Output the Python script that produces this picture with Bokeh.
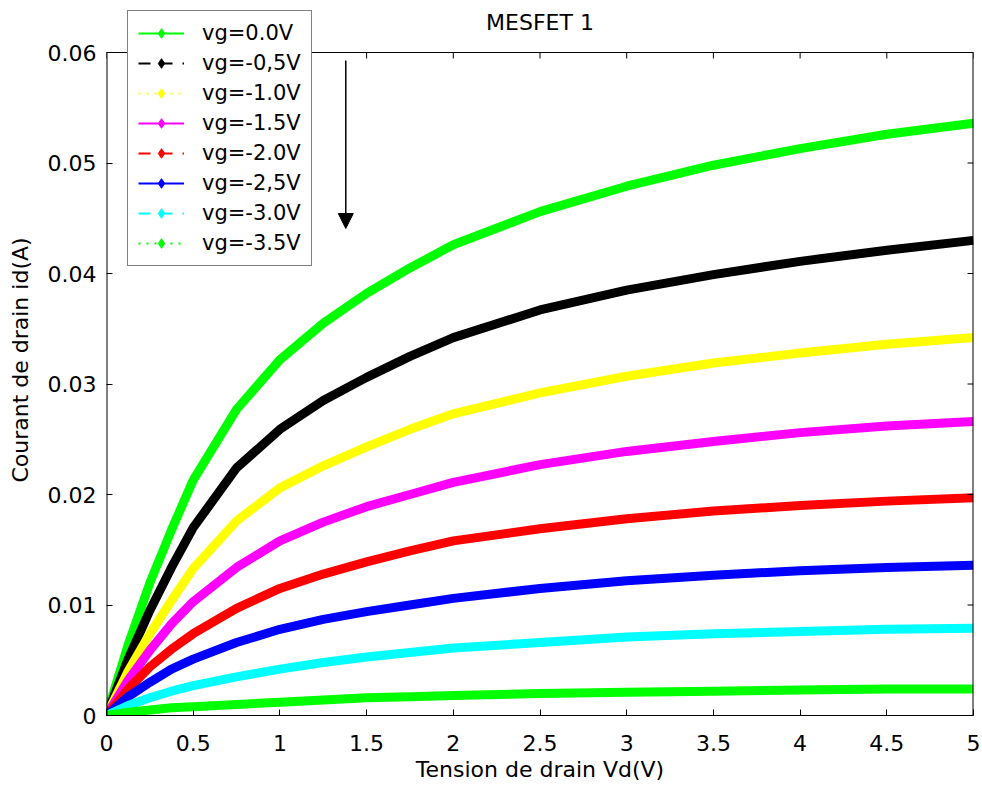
import math
from bokeh.plotting import figure
from bokeh.models import Range1d, FixedTicker, Legend, LegendItem, Arrow, NormalHead
from bokeh.core.properties import value
from bokeh.embed import file_html
from bokeh.resources import INLINE

# ---------------- data ----------------
vd = [0, 0.125, 0.25, 0.375, 0.5, 0.75, 1.0, 1.25, 1.5, 1.75, 2.0, 2.5, 3.0, 3.5, 4.0, 4.5, 5.0]

id_vg_0_0 = [0, 0.0064, 0.0120, 0.0168, 0.0213, 0.0277, 0.0322, 0.0355, 0.0382, 0.0405, 0.0426, 0.0456, 0.0479, 0.0498, 0.0513, 0.0526, 0.0536]
id_vg_m0_5 = [0, 0.0051, 0.0095, 0.0134, 0.0170, 0.0224, 0.0259, 0.0285, 0.0306, 0.0325, 0.0342, 0.0367, 0.0385, 0.0399, 0.0411, 0.0421, 0.0430]
id_vg_m1_0 = [0, 0.0040, 0.0074, 0.0104, 0.0133, 0.0176, 0.0206, 0.0226, 0.0243, 0.0259, 0.0273, 0.0292, 0.0307, 0.0319, 0.0328, 0.0336, 0.0342]
id_vg_m1_5 = [0, 0.0032, 0.0059, 0.0083, 0.0103, 0.0134, 0.0158, 0.0175, 0.0189, 0.0200, 0.0211, 0.0227, 0.0239, 0.0248, 0.0256, 0.0262, 0.0266]
id_vg_m2_0 = [0, 0.0024, 0.0044, 0.0060, 0.0074, 0.0097, 0.0115, 0.0128, 0.0139, 0.0149, 0.0158, 0.0169, 0.0178, 0.0185, 0.0190, 0.0194, 0.0197]
id_vg_m2_5 = [0, 0.0017, 0.0030, 0.0042, 0.0051, 0.0066, 0.0078, 0.0087, 0.0094, 0.0100, 0.0106, 0.0115, 0.0122, 0.0127, 0.0131, 0.0134, 0.0136]
id_vg_m3_0 = [0, 0.0009, 0.0016, 0.0022, 0.0027, 0.0035, 0.0042, 0.0048, 0.0053, 0.0057, 0.0061, 0.0066, 0.0071, 0.0074, 0.0076, 0.0078, 0.0079]
id_vg_m3_5 = [0, 0.0003, 0.0005, 0.0007, 0.0008, 0.0010, 0.0012, 0.0014, 0.0016, 0.0017, 0.0018, 0.0020, 0.0021, 0.0022, 0.0023, 0.0024, 0.0024]

series_values = [id_vg_0_0, id_vg_m0_5, id_vg_m1_0, id_vg_m1_5,
                 id_vg_m2_0, id_vg_m2_5, id_vg_m3_0, id_vg_m3_5]
series_labels = ["vg=0.0V", "vg=-0,5V", "vg=-1.0V", "vg=-1.5V",
                 "vg=-2.0V", "vg=-2,5V", "vg=-3.0V", "vg=-3.5V"]
series_colors = ["#00ff00", "#000000", "#ffff00", "#ff00ff",
                 "#ff0000", "#0000ff", "#00ffff", "#00ff00"]
legend_dashes = ["solid", "12 10", "2 6", "solid", "12 10", "solid", "12 10", "2 6"]

x_ticks = [0, 0.5, 1, 1.5, 2, 2.5, 3, 3.5, 4, 4.5, 5]
x_tick_labels = ["0", "0.5", "1", "1.5", "2", "2.5", "3", "3.5", "4", "4.5", "5"]
y_ticks = [0, 0.01, 0.02, 0.03, 0.04, 0.05, 0.06]
y_tick_labels = ["0", "0.01", "0.02", "0.03", "0.04", "0.05", "0.06"]

title_text = "MESFET 1"
x_label = "Tension de drain Vd(V)"
y_label = "Courant de drain id(A)"

X_MIN, X_MAX = 0, 5
Y_MIN, Y_MAX = 0, 0.06

# ---------------- layout constants ----------------
FONT = "DejaVu Sans"
FS = "22px"
W, H = 982, 789
LEFT, RIGHT, BOTTOM = 106, 9, 74
BOX_TOP = 52          # pixel row of the axes box top (y = 0.06)
FRAME_TOP = 4         # frame extends above the box so the legend can overlap it
frame_h = H - FRAME_TOP - BOTTOM
box_h = H - BOX_TOP - BOTTOM
y_frame_top = Y_MAX * frame_h / box_h

title_y = Y_MAX * (H - BOTTOM - 22) / box_h   # title centre row 22 px from the top
arrow_x = 1.38
arrow_y_start = Y_MAX * (H - BOTTOM - 60) / box_h
arrow_y_end = Y_MAX * (H - BOTTOM - 228) / box_h

p = figure(width=W, height=H, title=None,
           x_range=Range1d(X_MIN, X_MAX), y_range=Range1d(Y_MIN, y_frame_top),
           output_backend="svg", toolbar_location=None,
           min_border_left=LEFT, min_border_top=FRAME_TOP,
           min_border_right=RIGHT, min_border_bottom=BOTTOM)
p.grid.visible = False
p.background_fill_color = "white"
p.border_fill_color = "white"
p.outline_line_color = None

p.xaxis.ticker = FixedTicker(ticks=x_ticks)
p.yaxis.ticker = FixedTicker(ticks=y_ticks)
p.xaxis.major_label_overrides = {t: s for t, s in zip(x_ticks, x_tick_labels)}
p.yaxis.major_label_overrides = {t: s for t, s in zip(y_ticks, y_tick_labels)}
p.xaxis.axis_label = x_label
p.yaxis.axis_label = y_label

for ax in (p.xaxis[0], p.yaxis[0]):
    ax.major_tick_in = 6
    ax.major_tick_out = 0
    ax.minor_tick_line_color = None
    ax.major_tick_line_color = "black"
    ax.major_label_text_font = FONT
    ax.major_label_text_font_size = FS
    ax.major_label_text_color = "black"
    ax.axis_label_text_font = FONT
    ax.axis_label_text_font_size = FS
    ax.axis_label_text_font_style = "normal"
    ax.axis_label_text_color = "black"
p.xaxis.axis_line_color = "black"
p.yaxis.axis_line_color = None
p.xaxis.major_label_standoff = 19
p.xaxis.axis_label_standoff = 3
p.yaxis.major_label_standoff = 10
p.yaxis.axis_label_standoff = 12

# ---------------- curves ----------------
for ys, col in zip(series_values, series_colors):
    p.line(vd, ys, line_color=col, line_width=9, line_join="round")

# ---------------- axes box (left, right, top edges + inward ticks) ----------------
p.segment(x0=[X_MIN, X_MAX, X_MIN], y0=[Y_MIN, Y_MIN, Y_MAX],
          x1=[X_MIN, X_MAX, X_MAX], y1=[Y_MAX, Y_MAX, Y_MAX],
          line_color="black", line_width=[2, 2, 1])
p.ray(x=x_ticks, y=[Y_MAX] * len(x_ticks), length=6, length_units="screen",
      angle=-math.pi / 2, line_color="black", line_width=1)
p.ray(x=[X_MAX] * len(y_ticks), y=y_ticks, length=6, length_units="screen",
      angle=math.pi, line_color="black", line_width=1)

# ---------------- title ----------------
p.text(x=[(X_MIN + X_MAX) / 2], y=[title_y], text=[title_text],
       text_font=value(FONT), text_font_size=FS, text_color="black",
       text_align="center", text_baseline="middle")

# ---------------- arrow ----------------
p.add_layout(Arrow(end=NormalHead(size=15, fill_color="black", line_color="black"),
                   x_start=arrow_x, y_start=arrow_y_start,
                   x_end=arrow_x, y_end=arrow_y_end,
                   line_color="black", line_width=1.5))

# ---------------- legend (styled proxies, drawn off-range) ----------------
items = []
for lab, col, dash in zip(series_labels, series_colors, legend_dashes):
    lr = p.line([-1, -2], [-1, -2], line_color=col, line_width=2, line_dash=dash)
    sr = p.scatter([-1], [-1], marker="diamond", size=9, fill_color=col, line_color=col)
    items.append(LegendItem(label=lab, renderers=[lr, sr]))

leg = Legend(items=items, location=(21, 449), padding=10, spacing=6,
             glyph_width=46, glyph_height=24, label_height=24, label_standoff=18,
             label_text_font=FONT, label_text_font_size="21px", label_text_color="black",
             border_line_color="black", border_line_width=1,
             background_fill_color="white", background_fill_alpha=1.0, margin=0)
p.add_layout(leg)

open("out.html", "w").write(file_html(p, INLINE))
